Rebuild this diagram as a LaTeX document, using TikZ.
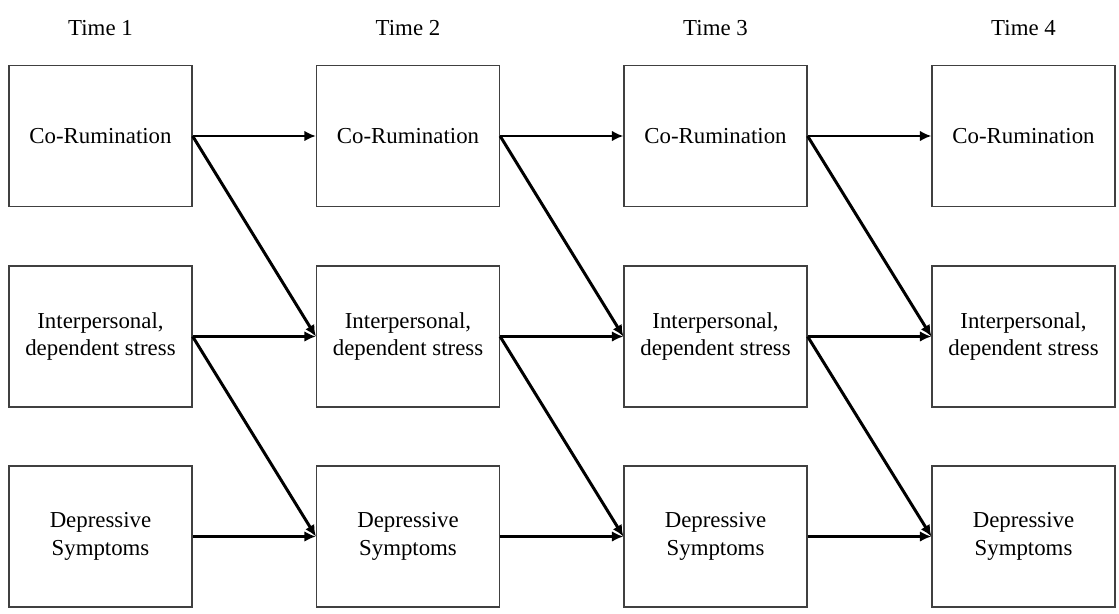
\documentclass[tikz,border=0pt]{standalone}
\usepackage{fontspec}
\setmainfont{Liberation Serif}
\usetikzlibrary{arrows.meta}
\tikzset{
  varbox/.style={draw=black!75, line width=0.7pt, minimum width=3.66cm,
    minimum height=2.82cm, align=center, inner sep=0pt,
    font=\fontsize{13}{15.6}\selectfont},
  timelabel/.style={font=\fontsize{13}{15.6}\selectfont},
  path/.style={line width=1.7pt, -{Latex[length=6.5pt,width=6pt]}}
}
\begin{document}
\begin{tikzpicture}
\useasboundingbox (0,0) rectangle (22.38,12.26);
\node[timelabel] (t1) at(2.01, 11.7) {Time 1};
\node[timelabel] (t2) at(8.16, 11.7) {Time 2};
\node[timelabel] (t3) at(14.31, 11.7) {Time 3};
\node[timelabel] (t4) at(20.47, 11.7) {Time 4};
% Time 1
\node[varbox] (cr1) at(2.01, 9.54) {Co-Rumination};
\node[varbox] (st1) at(2.01, 5.53) {Interpersonal,\\dependent stress};
\node[varbox] (ds1) at(2.01, 1.53) {Depressive\\Symptoms};
% Time 2
\node[varbox] (cr2) at(8.16, 9.54) {Co-Rumination};
\node[varbox] (st2) at(8.16, 5.53) {Interpersonal,\\dependent stress};
\node[varbox] (ds2) at(8.16, 1.53) {Depressive\\Symptoms};
% Time 3
\node[varbox] (cr3) at(14.31, 9.54) {Co-Rumination};
\node[varbox] (st3) at(14.31, 5.53) {Interpersonal,\\dependent stress};
\node[varbox] (ds3) at(14.31, 1.53) {Depressive\\Symptoms};
% Time 4
\node[varbox] (cr4) at(20.47, 9.54) {Co-Rumination};
\node[varbox] (st4) at(20.47, 5.53) {Interpersonal,\\dependent stress};
\node[varbox] (ds4) at(20.47, 1.53) {Depressive\\Symptoms};
% stability paths
\draw[path] (cr1.east) -- (cr2.west);
\draw[path] (st1.east) -- (st2.west);
\draw[path] (ds1.east) -- (ds2.west);
\draw[path] (cr2.east) -- (cr3.west);
\draw[path] (st2.east) -- (st3.west);
\draw[path] (ds2.east) -- (ds3.west);
\draw[path] (cr3.east) -- (cr4.west);
\draw[path] (st3.east) -- (st4.west);
\draw[path] (ds3.east) -- (ds4.west);
% cross-lagged paths
\draw[path] (cr1.east) -- (st2.west);
\draw[path] (st1.east) -- (ds2.west);
\draw[path] (cr2.east) -- (st3.west);
\draw[path] (st2.east) -- (ds3.west);
\draw[path] (cr3.east) -- (st4.west);
\draw[path] (st3.east) -- (ds4.west);
\end{tikzpicture}
\end{document}
